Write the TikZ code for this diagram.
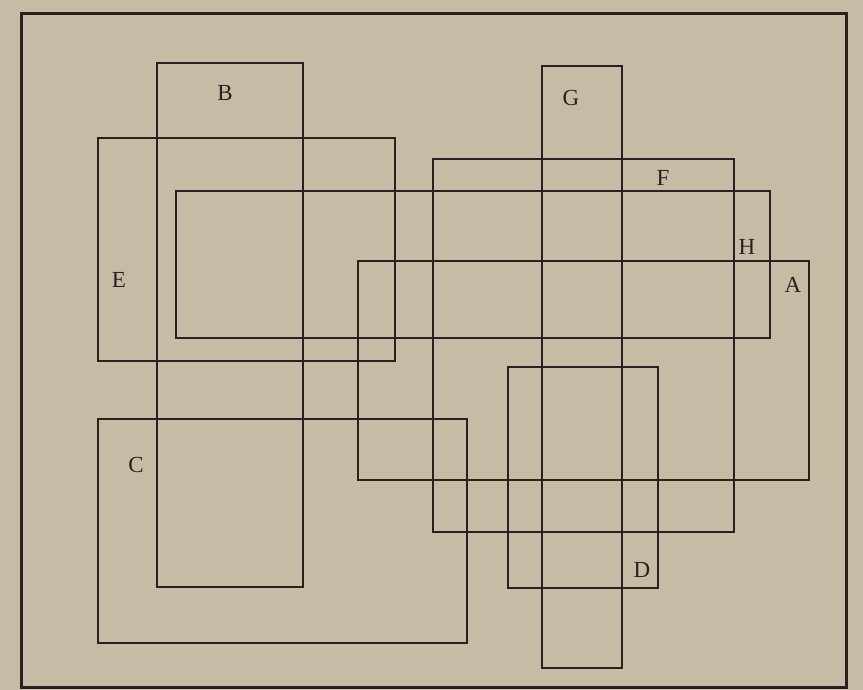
\documentclass[tikz,border=0pt]{standalone}
\usepackage{fontspec}
\setmainfont{Liberation Serif}
\usetikzlibrary{positioning}
\definecolor{Paper}{HTML}{C8BBA6}
\definecolor{PaperEdge}{HTML}{BFB29D}
\definecolor{Ink}{HTML}{27221F}
\tikzset{frame/.style={draw=Ink,line width=3pt,line cap=rect},panel/.style={draw=Ink,line width=1.6pt,line join=miter},letter/.style={text=Ink,font=\fontsize{23}{23}\selectfont,inner sep=0pt}}
\begin{document}
\begin{tikzpicture}[x=1pt,y=-1pt]
\fill[Paper] (0,0) rectangle (863,690);\useasboundingbox (0,0) rectangle (863,690);
\draw[frame] (21,14) rectangle (846,687);
\draw[panel] (157,63) rectangle (303,587);\node[letter] (labB) at (225,93) {B};
\draw[panel] (98,138) rectangle (395,361);\node[letter] (labE) at (119,280) {E};
\draw[panel] (176,191) rectangle (770,338);\node[letter] (labH) at (747,247) {H};
\draw[panel] (358,261) rectangle (809,480);\node[letter] (labA) at (793,285) {A};
\draw[panel] (433,159) rectangle (734,532);\node[letter] (labF) at (663,178) {F};
\draw[panel] (542,66) rectangle (622,668);\node[letter] (labG) at (571,98) {G};
\draw[panel] (508,367) rectangle (658,588);\node[letter] (labD) at (642,570) {D};
\draw[panel] (98,419) rectangle (467,643);\node[letter] (labC) at (136,465) {C};
\end{tikzpicture}
\end{document}
